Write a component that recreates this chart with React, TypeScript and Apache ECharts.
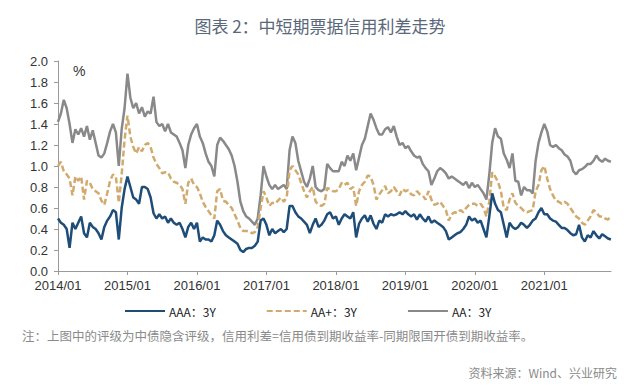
import React, { useEffect, useRef } from "react";
import * as echarts from "echarts";

const yearLabels = ["2014", "2015", "2016", "2017", "2018", "2019", "2020", "2021"];
const seriesNames = ["AAA：3Y", "AA+：3Y", "AA：3Y"];

// semi-monthly readings, Jan 2014 – Dec 2021 (24 per year)
const AAA = [
  0.50,0.46,0.44,0.40,0.22,0.46,0.40,0.46,0.52,0.36,0.32,0.46,0.42,0.40,0.36,0.30,0.42,0.48,0.52,0.58,0.56,0.30,0.60,0.78,
  0.90,0.80,0.70,0.68,0.64,0.80,0.80,0.78,0.70,0.55,0.50,0.54,0.50,0.52,0.46,0.50,0.46,0.44,0.46,0.40,0.32,0.42,0.46,0.40,
  0.46,0.28,0.32,0.30,0.30,0.28,0.34,0.48,0.44,0.38,0.34,0.32,0.30,0.28,0.26,0.20,0.18,0.21,0.22,0.22,0.24,0.28,0.48,0.50,
  0.44,0.34,0.40,0.36,0.38,0.40,0.37,0.40,0.62,0.62,0.56,0.52,0.50,0.47,0.44,0.36,0.44,0.50,0.42,0.44,0.48,0.54,0.56,0.50,
  0.52,0.44,0.50,0.54,0.52,0.50,0.56,0.32,0.45,0.50,0.53,0.47,0.53,0.45,0.40,0.48,0.46,0.54,0.52,0.54,0.53,0.54,0.56,0.54,
  0.57,0.54,0.52,0.54,0.49,0.54,0.50,0.47,0.52,0.46,0.48,0.46,0.44,0.42,0.38,0.30,0.32,0.34,0.36,0.37,0.40,0.44,0.52,0.48,
  0.50,0.46,0.48,0.40,0.32,0.52,0.74,0.64,0.58,0.56,0.44,0.32,0.46,0.42,0.40,0.42,0.46,0.44,0.41,0.44,0.48,0.50,0.56,0.60,
  0.54,0.54,0.50,0.48,0.47,0.44,0.41,0.41,0.39,0.36,0.34,0.35,0.44,0.32,0.28,0.34,0.32,0.38,0.34,0.31,0.35,0.33,0.31,0.30,
];
const AAplus = [
  1.00,1.04,0.95,0.92,0.88,0.72,0.90,0.86,0.90,0.68,0.86,0.84,0.78,0.76,0.74,0.67,0.63,0.74,0.86,0.92,0.90,0.65,0.92,1.25,
  1.48,1.28,1.18,1.12,1.18,1.14,1.20,1.22,1.18,1.08,1.02,0.98,0.93,0.94,0.94,0.88,0.85,0.84,0.82,0.78,0.64,0.84,0.88,0.82,
  0.80,0.74,0.66,0.61,0.57,0.53,0.50,0.76,0.78,0.67,0.66,0.63,0.60,0.54,0.48,0.41,0.38,0.38,0.38,0.36,0.37,0.42,0.60,0.76,
  0.70,0.62,0.65,0.64,0.67,0.70,0.66,0.70,0.96,1.00,0.96,0.92,0.84,0.76,0.70,0.76,0.80,0.66,0.63,0.62,0.64,0.79,0.78,0.76,
  0.76,0.78,0.84,0.82,0.84,0.78,0.80,0.62,0.76,0.82,0.85,0.91,0.90,0.82,0.68,0.73,0.77,0.81,0.74,0.76,0.80,0.76,0.72,0.78,
  0.76,0.77,0.73,0.72,0.76,0.73,0.72,0.68,0.76,0.68,0.63,0.64,0.66,0.62,0.58,0.48,0.54,0.56,0.55,0.58,0.56,0.60,0.63,0.64,
  0.64,0.62,0.64,0.60,0.52,0.66,0.94,0.90,0.85,0.76,0.60,0.58,0.68,0.74,0.65,0.62,0.60,0.57,0.56,0.57,0.58,0.76,0.82,0.96,
  1.00,0.88,0.78,0.72,0.67,0.66,0.64,0.66,0.64,0.60,0.56,0.52,0.50,0.46,0.44,0.48,0.52,0.58,0.56,0.52,0.52,0.50,0.49,0.52,
];
const AA = [
  1.42,1.50,1.63,1.55,1.40,1.22,1.35,1.30,1.36,1.28,1.38,1.25,1.34,1.22,1.10,1.08,1.12,1.22,1.33,1.40,1.32,1.00,1.35,1.55,
  1.88,1.65,1.55,1.60,1.50,1.56,1.47,1.52,1.50,1.66,1.42,1.38,1.40,1.33,1.40,1.32,1.30,1.28,1.22,1.15,0.98,1.20,1.30,1.36,
  1.40,1.28,1.22,1.12,1.04,1.00,0.90,1.20,1.27,1.24,1.20,1.16,1.10,1.00,0.85,0.66,0.57,0.52,0.50,0.47,0.44,0.50,0.72,1.00,
  0.90,0.82,0.78,0.82,0.78,0.80,0.82,0.78,1.15,1.28,1.22,1.05,0.95,0.85,0.80,0.88,1.00,0.80,0.77,0.76,0.78,1.02,0.98,0.95,
  0.95,0.95,1.04,1.00,1.10,1.05,1.12,0.96,1.08,1.20,1.26,1.38,1.50,1.44,1.36,1.30,1.30,1.35,1.37,1.32,1.38,1.28,1.20,1.22,
  1.17,1.19,1.14,1.10,1.08,1.09,1.02,0.98,0.95,0.82,0.88,0.95,0.98,0.96,0.93,0.88,0.90,0.88,0.86,0.84,0.82,0.85,0.79,0.84,
  0.80,0.82,0.78,0.74,0.68,0.92,1.22,1.36,1.28,1.26,1.12,1.06,0.98,1.12,0.86,0.85,0.72,0.80,0.77,0.77,0.74,1.05,1.22,1.32,
  1.40,1.33,1.20,1.18,1.20,1.17,1.15,1.11,1.09,1.05,0.95,0.92,0.96,0.97,0.99,1.02,1.02,1.05,1.10,1.06,1.04,1.07,1.05,1.04,
];

const firstYear = Number(yearLabels[0]);
const toPairs = (arr: number[]) => arr.map((v, i) => [firstYear + i / 24, v]);

export default function App() {
  const ref = useRef<HTMLDivElement>(null);
  useEffect(() => {
    document.body.style.margin = "0";
    const chart = echarts.init(ref.current!, null, { renderer: "svg" });
    const cjk = "'Noto Sans CJK SC', sans-serif";
    const axisFont = "'Liberation Sans', Arial, sans-serif";
    chart.setOption({
      animation: false,
      backgroundColor: "#ffffff",
      grid: { left: 58, right: 29, top: 61, bottom: 115 },
      graphic: [
        { type: "text", left: "center", top: 17, style: { text: "图表 2：中短期票据信用利差走势", font: `17px ${cjk}`, fill: "#5a687a" } },
        { type: "text", left: 73, top: 64, style: { text: "%", font: `14px ${axisFont}`, fill: "#333" } },
        { type: "text", left: 22, top: 329, style: { text: "注：上图中的评级为中债隐含评级，信用利差=信用债到期收益率-同期限国开债到期收益率。", font: `12.5px ${cjk}`, fill: "#8a8a8a" } },
        { type: "text", right: 23, top: 366, style: { text: "资料来源：Wind、兴业研究", font: `12px ${cjk}`, fill: "#8a8a8a" } },
      ],
      legend: {
        left: 119,
        top: 300,
        itemWidth: 40,
        itemHeight: 2,
        itemGap: 50,
        itemStyle: { opacity: 0 },
        textStyle: { fontFamily: cjk, fontSize: 12, color: "#222", padding: [0, 0, 0, -1] },
        data: seriesNames,
      },
      xAxis: {
        type: "value",
        min: firstYear,
        max: 2021.96,
        interval: 1,
        splitLine: { show: false },
        axisLine: { show: true, lineStyle: { color: "#9a9a9a", width: 1 } },
        axisTick: { show: true, length: 4, lineStyle: { color: "#9a9a9a" } },
        axisLabel: {
          showMaxLabel: false,
          margin: 8,
          fontFamily: axisFont,
          fontSize: 13,
          color: "#333",
          formatter: (v: number) => (Number.isInteger(v) && yearLabels.includes(String(v)) ? `${v}/01` : ""),
        },
      },
      yAxis: {
        type: "value",
        min: 0,
        max: 2,
        interval: 0.2,
        splitLine: { show: false },
        axisLine: { show: true, lineStyle: { color: "#9a9a9a", width: 1 } },
        axisTick: { show: true, length: 4, lineStyle: { color: "#9a9a9a" } },
        axisLabel: {
          margin: 10,
          fontFamily: axisFont,
          fontSize: 13,
          color: "#333",
          formatter: (v: number) => v.toFixed(1),
        },
      },
      series: [
        { name: seriesNames[0], type: "line", symbol: "none", data: toPairs(AAA), lineStyle: { color: "#1e4d78", width: 2.5 }, itemStyle: { color: "#1e4d78" }, z: 3 },
        { name: seriesNames[1], type: "line", symbol: "none", data: toPairs(AAplus), lineStyle: { color: "#d1aa6e", width: 2.5, type: [6, 3] }, itemStyle: { color: "#d1aa6e" }, z: 2 },
        { name: seriesNames[2], type: "line", symbol: "none", data: toPairs(AA), lineStyle: { color: "#898989", width: 2.5 }, itemStyle: { color: "#898989" }, z: 1 },
      ],
    });
    return () => chart.dispose();
  }, []);
  return <div ref={ref} style={{ position: "fixed", left: 0, top: 0, width: 640, height: 386 }} />;
}
